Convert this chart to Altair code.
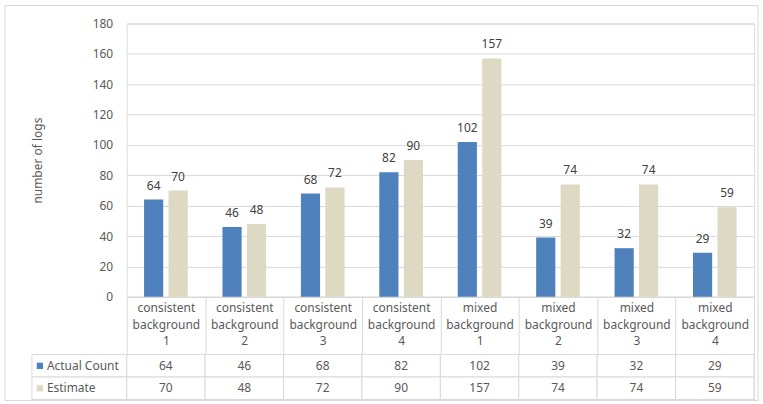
import altair as alt
import pandas as pd

# Log counts per background condition
categories = [
    "consistent background 1", "consistent background 2",
    "consistent background 3", "consistent background 4",
    "mixed background 1", "mixed background 2",
    "mixed background 3", "mixed background 4",
]
series = ["Actual Count", "Estimate"]
actual_count = [64, 46, 68, 82, 102, 39, 32, 29]
estimate = [70, 48, 72, 90, 157, 74, 74, 59]
y_ticks = [0, 20, 40, 60, 80, 100, 120, 140, 160, 180]

rows = []
for cat, a, e in zip(categories, actual_count, estimate):
    rows.append({"category": cat, "series": series[0], "value": a})
    rows.append({"category": cat, "series": series[1], "value": e})
df = pd.DataFrame(rows)

FONT = "Noto Sans"
TEXT = "#595959"
LINE = "#d9d9d9"
colors = alt.Scale(domain=series, range=["#4f81bd", "#ddd9c3"])

W, H = 629, 274
HEADER = 58

x_top = alt.X(
    "category:N", sort=categories,
    scale=alt.Scale(paddingInner=0, paddingOuter=0),
    axis=alt.Axis(
        title=None, labelAngle=0,
        labelExpr="datum.value ? split(datum.value, ' ') : ''",
        labelColor=TEXT, labelFont=FONT, labelFontSize=12, labelLineHeight=16.5,
        labelPadding=-HEADER + 6, labelBaseline="top",
        tickBand="extent", tickSize=HEADER, tickColor=LINE,
        domainColor=LINE, grid=False,
    ),
)
x_off = alt.XOffset("series:N", sort=series,
                    scale=alt.Scale(paddingInner=0.217, paddingOuter=0.71))
y_val = alt.Y(
    "value:Q",
    scale=alt.Scale(domain=[0, 180], nice=False),
    axis=alt.Axis(
        values=y_ticks, title="number of logs", titleFont=FONT,
        titleFontSize=12, titleFontWeight="normal", titleColor=TEXT,
        titlePadding=48, labelColor=TEXT, labelFont=FONT, labelFontSize=12,
        labelPadding=14, ticks=False, domain=False, gridColor=LINE,
    ),
)

bars = alt.Chart(df).mark_bar().encode(
    x=x_top, xOffset=x_off, y=y_val,
    color=alt.Color("series:N", scale=colors, legend=None),
)
labels = alt.Chart(df).mark_text(
    baseline="bottom", dy=-7, font=FONT, fontSize=12, color="#404040"
).encode(x=x_top, xOffset=x_off, y=y_val, text="value:Q")

# Light frame around the whole figure
frame = alt.Chart(pd.DataFrame({"f": [0]})).mark_rect(
    fill=None, stroke=LINE, strokeWidth=1
).encode(
    x=alt.value(-122), x2=alt.value(W + 4),
    y=alt.value(-18), y2=alt.value(H + HEADER + 46),
)

top = alt.layer(frame, bars, labels).properties(width=W, height=H)

# Data table under the plot
x_tab = alt.X("category:N", sort=categories,
              scale=alt.Scale(paddingInner=0, paddingOuter=0), axis=None)
y_tab = alt.Y("series:N", sort=series,
              scale=alt.Scale(paddingInner=0, paddingOuter=0), axis=None)

cells = alt.Chart(df).mark_rect(fill="white", stroke=LINE, strokeWidth=1).encode(
    x=x_tab, y=y_tab
)
cell_text = alt.Chart(df).mark_text(font=FONT, fontSize=12, color=TEXT).encode(
    x=x_tab, y=y_tab, text="value:Q"
)
legend_df = pd.DataFrame({"series": series})
legend_cells = alt.Chart(legend_df).mark_rect(
    fill="white", stroke=LINE, strokeWidth=1
).encode(x=alt.value(-95), x2=alt.value(0), y=y_tab)
legend_keys = alt.Chart(legend_df).mark_square(size=40, opacity=1).encode(
    x=alt.value(-87), y=y_tab,
    color=alt.Color("series:N", scale=colors, legend=None),
)
legend_text = alt.Chart(legend_df).mark_text(
    align="left", font=FONT, fontSize=12, color=TEXT
).encode(x=alt.value(-80), y=y_tab, text="series:N")

table = alt.layer(cells, cell_text, legend_cells, legend_keys, legend_text).properties(
    width=W, height=45
)

chart = alt.vconcat(top, table, spacing=HEADER, bounds="flush").properties(
    padding={"left": 4, "top": 4, "right": 4, "bottom": 4}
).configure_view(stroke=None).configure(background="white")

chart.save("out.html", embed_options={"renderer": "svg", "actions": False})
